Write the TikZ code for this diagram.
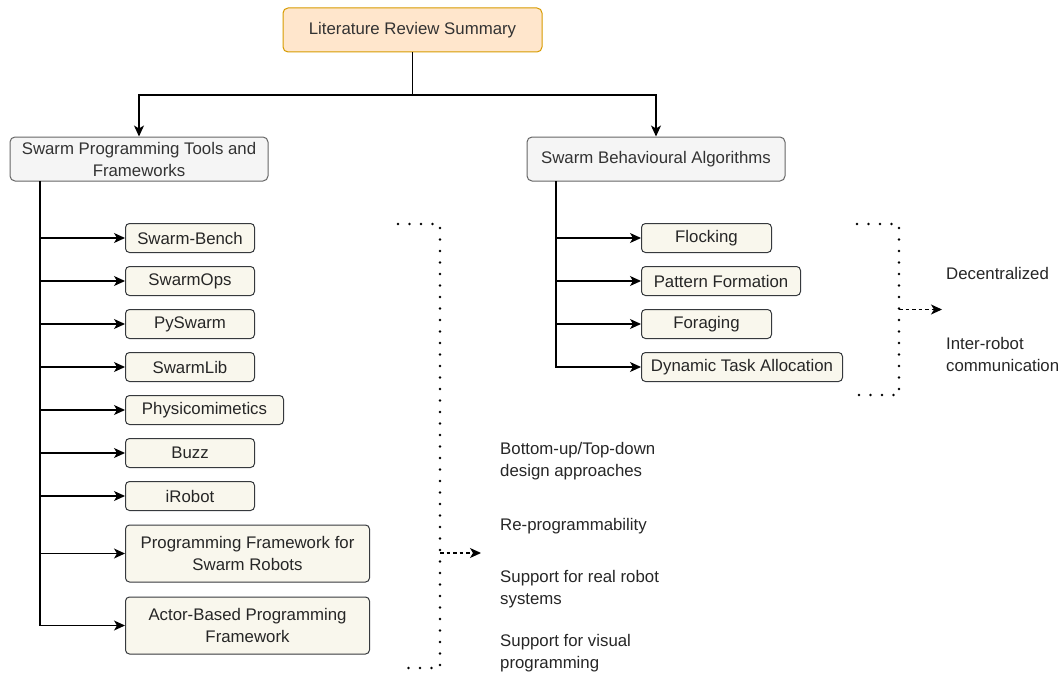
\documentclass[tikz,border=0pt]{standalone}
\usepackage{fontspec}
\setmainfont{Liberation Sans}
\usetikzlibrary{arrows.meta}
\definecolor{rootfill}{HTML}{FFE6CC}
\definecolor{rootline}{HTML}{D79B00}
\definecolor{headfill}{HTML}{F5F5F5}
\definecolor{headline}{HTML}{666666}
\definecolor{leaffill}{HTML}{F9F7ED}
\definecolor{leafline}{HTML}{36393D}
\definecolor{textgray}{HTML}{333333}
\tikzset{
  every node/.style={font=\fontsize{16.8}{22}\selectfont},
  rootbox/.style={draw=rootline, fill=rootfill, line width=1pt, rounded corners=5pt,
    minimum width=259, minimum height=44, inner sep=0pt, text=textgray},
  headbox/.style={draw=headline, fill=headfill, line width=1pt, rounded corners=5pt,
    minimum width=258, minimum height=44, inner sep=0pt, align=center, text=textgray},
  leafbox/.style={draw=leafline, fill=leaffill, line width=1pt, rounded corners=4pt,
    minimum height=29, inner sep=0pt, anchor=west, align=center, text=black!85},
  note/.style={anchor=west, inner sep=0pt, align=left, text=black!85},
  link/.style={-{Stealth[length=11pt,width=10pt,inset=3pt]}, line width=1.2pt},
  bracket/.style={line width=2.6pt, line cap=round, dash pattern=on 0pt off 11.5pt},
  hint/.style={-{Stealth[length=11pt,width=10pt,inset=3pt]}, line width=1.2pt, dash pattern=on 3.5pt off 3pt}
}
\begin{document}
\begin{tikzpicture}[x=1pt,y=-1pt]
      \useasboundingbox (0,0) rectangle (1062,677);
      \draw
        (412.5,30) node[rootbox] (root){Literature Review Summary}
        (139,159) node[headbox] (tools){Swarm Programming Tools and\\Frameworks}
        (656,159) node[headbox] (algos){Swarm Behavioural Algorithms}
        (125,238) node[leafbox, minimum width=129] (bench){Swarm-Bench}
        (125,281) node[leafbox, minimum width=129] (ops){SwarmOps}
        (125,324) node[leafbox, minimum width=129] (py){PySwarm}
        (125,367) node[leafbox, minimum width=129] (lib){SwarmLib}
        (125,410) node[leafbox, minimum width=158] (physi){Physicomimetics}
        (125,453) node[leafbox, minimum width=129] (buzz){Buzz}
        (125,496) node[leafbox, minimum width=129] (irobot){iRobot}
        (125,553.5) node[leafbox, minimum width=244, minimum height=57] (pfsr){Programming Framework for\\Swarm Robots}
        (125,625.5) node[leafbox, minimum width=244, minimum height=57] (actor){Actor-Based Programming\\Framework}
        (641,238) node[leafbox, minimum width=130] (flock){Flocking}
        (641,281) node[leafbox, minimum width=159] (pattern){Pattern Formation}
        (641,324) node[leafbox, minimum width=130] (forage){Foraging}
        (641,367) node[leafbox, minimum width=201] (dta){Dynamic Task Allocation}
        (500,461) node[note] (updown){Bottom-up/Top-down\\design approaches}
        (500,526) node[note] (reprog){Re-programmability}
        (500,589.5) node[note] (realrob){Support for real robot\\systems}
        (500,653) node[note] (visual){Support for visual\\programming}
        (946,273) node[note] (decent){Decentralized}
        (946,354) node[note] (comm){Inter-robot\\communication};
      \coordinate (split) at (412.5,95);
      \coordinate (ltrunk) at (40,181);
      \coordinate (rtrunk) at (556,181);
      \coordinate (lfrom) at (440,553);
      \coordinate (lto) at (481,553);
      \coordinate (rfrom) at (899,309.5);
      \coordinate (rto) at (942,309.5);
      \begin{scope}[link]
        \draw (root) -- (split) -| (tools);
        \draw (root) -- (split) -| (algos);
        \draw (ltrunk) |- (bench);
        \draw (ltrunk) |- (ops);
        \draw (ltrunk) |- (py);
        \draw (ltrunk) |- (lib);
        \draw (ltrunk) |- (physi);
        \draw (ltrunk) |- (buzz);
        \draw (ltrunk) |- (irobot);
        \draw (ltrunk) |- (pfsr);
        \draw (ltrunk) |- (actor);
        \draw (rtrunk) |- (flock);
        \draw (rtrunk) |- (pattern);
        \draw (rtrunk) |- (forage);
        \draw (rtrunk) |- (dta);
      \end{scope}
      \draw[bracket] (398,224) -- (440,224) -- (440,668) -- (398,668);
      \draw[bracket] (857,224) -- (899,224) -- (899,395) -- (857,395);
      \draw[hint] (lfrom) -- (lto);
      \draw[hint] (rfrom) -- (rto);
    \end{tikzpicture}
\end{document}
